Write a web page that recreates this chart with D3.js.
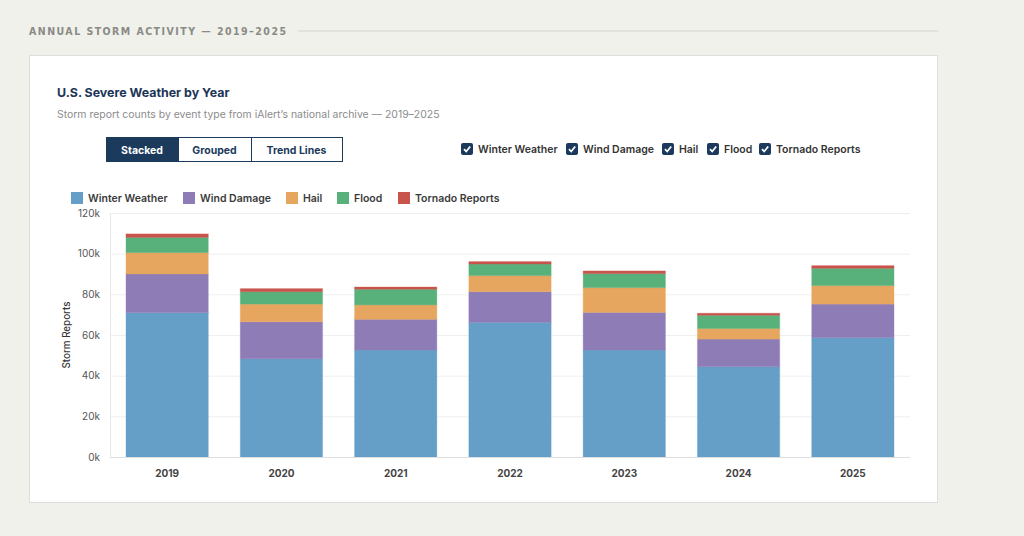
<!DOCTYPE html>
<html><head><meta charset="utf-8">
<script src="https://cdn.jsdelivr.net/npm/d3@7"></script>
<style>
html,body{margin:0;padding:0;background:#f1f1ec;width:1024px;height:536px;overflow:hidden;font-family:Inter,"Noto Sans",sans-serif;}
svg{display:block}
</style></head>
<body>
<svg id="chart" width="1024" height="536"></svg>
<script>
const years = ["2019","2020","2021","2022","2023","2024","2025"];
const seriesNames = ["Winter Weather","Wind Damage","Hail","Flood","Tornado Reports"];
const winterWeather = [71.0, 48.3, 52.6, 66.2, 52.6, 44.4, 58.7];
const windDamage   = [19.0, 18.2, 15.1, 15.1, 18.5, 13.6, 16.5];
const hail         = [10.5, 8.7, 7.1, 7.9, 12.2, 5.2, 9.1];
const flood        = [7.5, 6.1, 7.7, 5.7, 6.9, 6.5, 8.5];
const tornado      = [1.7, 1.5, 1.1, 1.2, 1.3, 1.0, 1.3];
const colors = ["#659fc8","#8e7cb7","#e7a65f","#58b17b","#c9544c"];
const yTicks = [0,20,40,60,80,100,120];
const modes = ["Stacked","Grouped","Trend Lines"];

const rows = years.map((y,i)=>({year:y,"Winter Weather":winterWeather[i],"Wind Damage":windDamage[i],"Hail":hail[i],"Flood":flood[i],"Tornado Reports":tornado[i]}));

const svg = d3.select("#chart");
const navy = "#1b3a5c";

// Section header
svg.append("text").attr("x",29).attr("y",35).text("ANNUAL STORM ACTIVITY — 2019–2025")
  .attr("font-size",10.5).attr("font-weight",700).attr("letter-spacing",1.47).attr("fill","#8a8a86")
  .attr("font-family","'DejaVu Sans Condensed','Liberation Sans Narrow',Inter,sans-serif");
svg.append("line").attr("x1",298).attr("x2",938).attr("y1",31).attr("y2",31).attr("stroke","#dcdcd8").attr("stroke-width",1.5);

// Card
svg.append("rect").attr("x",29.5).attr("y",55.5).attr("width",908).attr("height",447).attr("fill","#fff").attr("stroke","#dedede");

svg.append("text").attr("x",57).attr("y",97).text("U.S. Severe Weather by Year")
  .attr("font-size",12.4).attr("font-weight",700).attr("fill","#1c3557");
svg.append("text").attr("x",57).attr("y",118).text("Storm report counts by event type from iAlert’s national archive — 2019–2025")
  .attr("font-size",10.45).attr("fill","#8c8c8c");

// Mode buttons
const btnX=[106,178,251,342];
modes.forEach((m,i)=>{
  const g=svg.append("g");
  g.append("rect").attr("x",btnX[i]+0.5).attr("y",137.5).attr("width",btnX[i+1]-btnX[i]).attr("height",24)
    .attr("fill",i===0?navy:"#fff").attr("stroke",navy).attr("stroke-width",1);
  g.append("text").attr("x",(btnX[i]+btnX[i+1])/2).attr("y",154).attr("text-anchor","middle")
    .attr("font-size",10.5).attr("font-weight",700).attr("fill",i===0?"#fff":navy).text(m);
});

// Checkboxes
const cbX=[461,566,662,707,759];
seriesNames.forEach((s,i)=>{
  const g=svg.append("g").attr("transform",`translate(${cbX[i]},143)`);
  g.append("rect").attr("width",12).attr("height",12).attr("rx",2).attr("fill",navy);
  g.append("path").attr("d","M3,6.2 L5.2,8.5 L9.2,3.5").attr("fill","none").attr("stroke","#fff").attr("stroke-width",1.8);
  g.append("text").attr("x",17).attr("y",10).attr("font-size",10.5).attr("font-weight",600).attr("fill","#333").text(s);
});

// Legend
const lgX=[71,183,286,337,398];
seriesNames.forEach((s,i)=>{
  svg.append("rect").attr("x",lgX[i]).attr("y",192).attr("width",12).attr("height",12).attr("fill",colors[i]);
  svg.append("text").attr("x",lgX[i]+17).attr("y",202).attr("font-size",10.5).attr("font-weight",600).attr("fill","#3a3a3a").text(s);
});

// Plot
const x = d3.scaleBand().domain(years).range([110,910]).paddingInner(0.28).paddingOuter(0.14);
const y = d3.scaleLinear().domain([0,120]).range([457,213]);

svg.append("g").selectAll("line").data(yTicks).join("line")
  .attr("x1",110).attr("x2",910).attr("y1",d=>y(d)+0.5).attr("y2",d=>y(d)+0.5).attr("stroke","#efefef");
svg.append("line").attr("x1",110.5).attr("x2",110.5).attr("y1",213).attr("y2",457).attr("stroke","#e6e6e6");

const yAxis = svg.append("g").attr("transform","translate(110,0)")
  .call(d3.axisLeft(y).tickValues(yTicks).tickFormat(d=>d+"k").tickSize(0).tickPadding(10));
yAxis.select(".domain").remove();
yAxis.selectAll("text").attr("font-size",10).attr("fill","#555").attr("font-family","Inter,sans-serif");

svg.append("text").attr("transform","translate(70,335) rotate(-90)").attr("text-anchor","middle")
  .attr("font-size",9.8).attr("font-weight",500).attr("fill","#333").text("Storm Reports");

const stack = d3.stack().keys(seriesNames)(rows);
svg.append("g").selectAll("g").data(stack).join("g")
  .attr("fill",(d,i)=>colors[i]).attr("stroke",(d,i)=>colors[i])
  .selectAll("rect").data(d=>d).join("rect")
  .attr("x",d=>x(d.data.year)).attr("width",x.bandwidth())
  .attr("y",d=>y(d[1])).attr("height",d=>y(d[0])-y(d[1]))
  .attr("fill-opacity",1).attr("stroke-opacity",0.35).attr("stroke-width",1);

svg.append("line").attr("x1",110).attr("x2",910).attr("y1",457.5).attr("y2",457.5).attr("stroke","#dedede");

const xAxis = svg.append("g").attr("transform","translate(0,457)")
  .call(d3.axisBottom(x).tickSize(0).tickPadding(13));
xAxis.select(".domain").remove();
xAxis.selectAll("text").attr("font-size",10).attr("font-weight",700).attr("fill","#444").attr("font-family","Inter,sans-serif");
</script>
</body></html>
